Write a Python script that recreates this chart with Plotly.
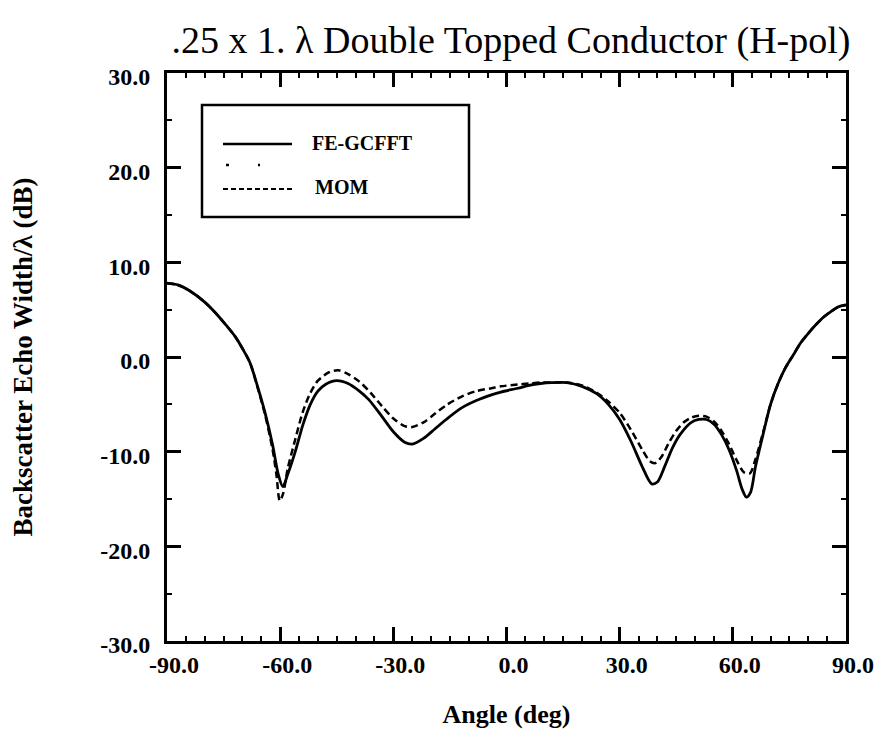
import plotly.graph_objects as go

# ---- data ----
fe_angle = [-90, -87, -84, -80, -77, -74, -72, -70, -68, -66, -64, -62, -60.5, -59.3, -58, -56,
            -54, -52, -50, -48, -45, -42, -39, -36.5, -33, -30, -27, -25, -22, -19, -16, -12,
            -8, -4, -1.5, 3, 6, 9, 12, 16, 20, 24, 27, 30, 33, 36, 38.5, 40, 42, 44, 46, 49,
            51, 53, 55, 57, 59, 61, 62.5, 63.6, 64.7, 66, 68, 70, 72, 74, 76, 78, 80, 82, 84,
            86, 88, 90]
fe_db = [7.8, 7.6, 7.0, 5.8, 4.6, 3.2, 2.2, 0.9, -0.6, -3.1, -5.9, -9.3, -12.4, -13.7, -12.4, -10.0,
         -7.2, -5.0, -3.6, -2.9, -2.5, -2.8, -3.6, -4.5, -6.3, -7.9, -9.0, -9.2, -8.6, -7.6, -6.6, -5.4,
         -4.6, -4.0, -3.7, -3.3, -3.0, -2.8, -2.7, -2.7, -3.1, -3.9, -5.0, -6.6, -8.9, -11.6, -13.4, -13.2, -11.5, -9.6, -8.2, -6.9,
         -6.6, -6.6, -7.1, -8.2, -9.8, -12.0, -14.0, -14.8, -14.3, -11.6, -8.2, -5.0, -2.8, -1.1, 0.2, 1.5, 2.5, 3.4, 4.2,
         4.8, 5.3, 5.5]

mom_angle = [-90, -87, -84, -80, -77, -74, -72, -70, -68, -66, -64, -62, -61, -60.1, -59.2, -58, -56,
             -54, -52, -50, -47, -44.6, -42, -39, -36, -33, -30, -27, -25, -22, -19, -16, -12,
             -8, -4, -1.5, 3, 6, 9, 12, 16, 20, 24, 27, 30, 33, 36, 38, 39.5, 41, 43, 45, 47, 49,
             51, 53, 55, 57, 59, 61, 63, 64.5, 66, 68, 70, 72, 74, 76, 78, 80, 82, 84,
             86, 88, 90]
mom_db = [7.8, 7.6, 7.0, 5.8, 4.6, 3.2, 2.2, 0.9, -0.6, -3.2, -6.1, -9.8, -12.4, -15.2, -14.4, -11.8, -8.7,
          -5.8, -3.8, -2.5, -1.6, -1.4, -1.8, -2.6, -3.8, -5.2, -6.5, -7.3, -7.4, -6.9, -6.0, -5.1, -4.2,
          -3.6, -3.3, -3.1, -2.9, -2.8, -2.7, -2.7, -2.7, -3.0, -3.8, -4.7, -5.9, -7.7, -9.8, -11.0, -11.2, -10.6, -9.1, -7.8, -6.9, -6.4,
          -6.2, -6.3, -6.8, -7.8, -9.2, -10.9, -12.2, -12.3, -10.8, -8.0, -5.0, -2.8, -1.1, 0.2, 1.5, 2.5, 3.4, 4.2,
          4.8, 5.3, 5.5]

x_ticks = [-90, -60, -30, 0, 30, 60, 90]
x_ticktext = ["-90.0", "-60.0", "-30.0", "0.0", "30.0", "60.0", "90.0"]
y_ticks = [-30, -20, -10, 0, 10, 20, 30]
y_ticktext = ["-30.0", "-20.0", "-10.0", "0.0", "10.0", "20.0", "30.0"]

legend_names = ["FE-GCFFT", "", "MOM"]

FONT = "Liberation Serif, Times New Roman, serif"

# target page geometry (page has an 8px body margin)
OFF = 8
L, R, T, B = 167, 846, 73, 641          # plot frame in page pixels
W, H = 888 - OFF, 756 - OFF

fig = go.Figure()
fig.add_trace(go.Scatter(x=fe_angle, y=fe_db, mode="lines",
                         line=dict(color="black", width=2.8, shape="spline", smoothing=0.8),
                         name=legend_names[0], showlegend=False))
fig.add_trace(go.Scatter(x=mom_angle, y=mom_db, mode="lines",
                         line=dict(color="black", width=2.5, dash="7px,4px", shape="spline", smoothing=0.8),
                         name=legend_names[2], showlegend=False))

def px(xp):
    return (xp - L) / (R - L)
def py(yp):
    return (B - yp) / (B - T)

shapes = [
    dict(type="rect", xref="paper", yref="paper", x0=px(202), x1=px(469), y0=py(217), y1=py(105),
         line=dict(color="black", width=2.5), fillcolor="white", layer="above"),
    dict(type="line", xref="paper", yref="paper", x0=px(223), x1=px(292), y0=py(144), y1=py(144),
         line=dict(color="black", width=2.6), layer="above"),
    dict(type="line", xref="paper", yref="paper", x0=px(226), x1=px(260), y0=py(165), y1=py(165),
         line=dict(color="black", width=2.4, dash="3px,29px"), layer="above"),
    dict(type="line", xref="paper", yref="paper", x0=px(223), x1=px(295), y0=py(189), y1=py(189),
         line=dict(color="black", width=2.2, dash="5px,3px"), layer="above"),
]
annotations = [
    dict(xref="paper", yref="paper", x=px(310), y=py(143), text="<b>" + legend_names[0] + "</b>", showarrow=False,
         xanchor="left", yanchor="middle", font=dict(family=FONT, size=20, color="black")),
    dict(xref="paper", yref="paper", x=px(313), y=py(187), text="<b>" + legend_names[2] + "</b>", showarrow=False,
         xanchor="left", yanchor="middle", font=dict(family=FONT, size=20, color="black")),
]

axis_common = dict(
    showline=True, linecolor="black", linewidth=3, mirror="allticks",
    ticks="inside", ticklen=14, tickwidth=2.5, tickcolor="black",
    showgrid=False, zeroline=False,
    tickfont=dict(family=FONT, size=24, color="black", weight="bold"),
    minor=dict(ticks="inside", ticklen=5, tickwidth=2.2, tickcolor="black", dtick=5, showgrid=False),
)

fig.update_layout(
    width=W, height=H,
    margin=dict(l=L - OFF, r=W - (R - OFF), t=T - OFF, b=H - (B - OFF)),
    paper_bgcolor="white", plot_bgcolor="white",
    title=dict(text=".25 x 1. λ Double Topped Conductor (H-pol)", x=(511 - OFF) / W, xanchor="center",
               y=1 - (40 - OFF) / H, yanchor="middle", font=dict(family=FONT, size=38, color="black")),
    xaxis=dict(range=[-90, 90], tickvals=x_ticks, ticktext=x_ticktext, ticklabelshift=7,
               title=dict(text="<b>Angle (deg)</b>", font=dict(family=FONT, size=26, color="black"), standoff=29),
               **axis_common),
    yaxis=dict(range=[-30, 30], tickvals=y_ticks, ticktext=y_ticktext, ticklabelstandoff=9, ticklabelshift=4,
               title=dict(text="<b>Backscatter Echo Width/λ (dB)</b>", font=dict(family=FONT, size=27, color="black"), standoff=60),
               **axis_common),
    shapes=shapes, annotations=annotations,
    showlegend=False,
)

fig.write_html("out.html")
